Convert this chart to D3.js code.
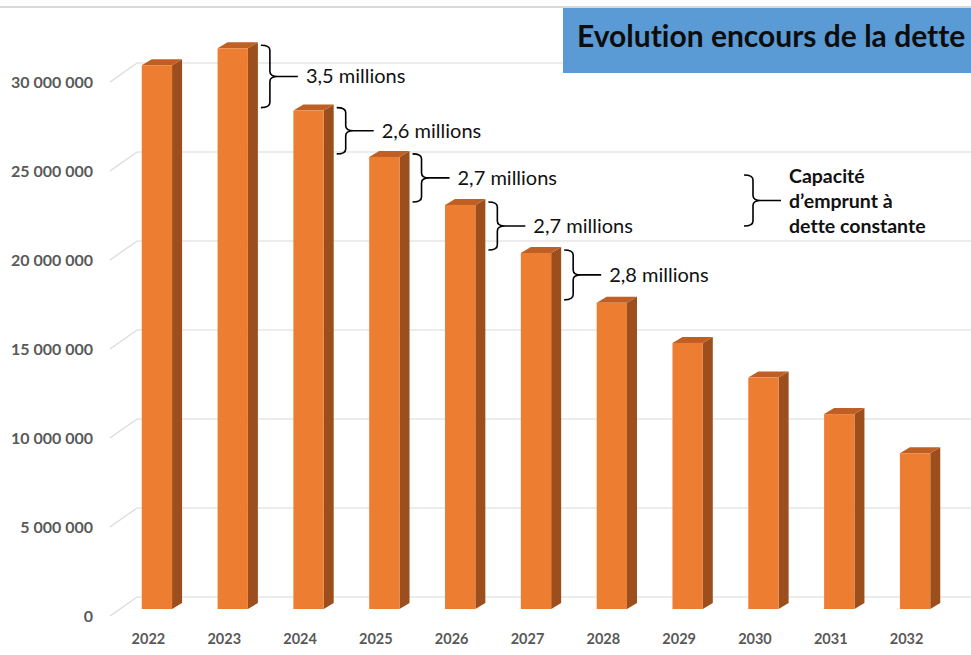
<!DOCTYPE html>
<html>
<head>
<meta charset="utf-8">
<script src="https://cdn.jsdelivr.net/npm/d3@7"></script>
<style>
  body { margin: 0; background: #fff; }
  svg { display: block; font-family: Lato, "Open Sans", sans-serif; font-variant-ligatures: none; }
  .axis text { fill: #595959; font-weight: bold; font-family: Lato, "Open Sans", sans-serif; }
  .brace { fill: none; stroke: #000; stroke-width: 1.6; }
  .brace-label { font-size: 20px; fill: #111; }
</style>
</head>
<body>
<svg id="chart"></svg>
<script>
const years = ['2022', '2023', '2024', '2025', '2026', '2027', '2028', '2029', '2030', '2031', '2032'];
const debt = [30550000, 31500000, 28000000, 25400000, 22700000, 20000000, 17200000, 14950000, 13000000, 10950000, 8750000];
const yTicks = [0, 5000000, 10000000, 15000000, 20000000, 25000000, 30000000];
const gapFrom = ['2023', '2024', '2025', '2026', '2027'];
const gapLabels = ['3,5 millions', '2,6 millions', '2,7 millions', '2,7 millions', '2,8 millions'];
const noteLines = ['Capacité', 'd’emprunt à', 'dette constante'];
const title = 'Evolution encours de la dette';

const width = 971;
const height = 655;

// 3D offsets (front axis plane -> back wall, bar depth)
const wall = { dx: 27, dy: -19 };
const bar = { dx: 10, dy: -6, inset: 12 };

const svg = d3.select('#chart')
  .attr('width', width)
  .attr('height', height);

const data = years.map((year, i) => ({ year, total: debt[i] }));

const x = d3.scaleBand()
  .range([119, 953])
  .paddingInner(0.6)
  .paddingOuter(0.3)
  .domain(years);
// back wall scale
const y = d3.scaleLinear()
  .range([597, 63])
  .domain([0, 30000000]);

const fmt = d3.formatLocale({ decimal: ',', thousands: ' ', grouping: [3], currency: ['', ' €'] }).format(',');

// top border line
svg.append('line')
  .attr('x1', 0).attr('x2', width)
  .attr('y1', 7).attr('y2', 7)
  .attr('stroke', '#d9d9d9')
  .attr('stroke-width', 2);

// Gridlines: floor diagonal + back wall horizontal
const grid = svg.append('g').attr('class', 'grid');
const wallX = 110 + wall.dx;
grid.selectAll('path')
  .data(yTicks)
  .enter().append('path')
    .attr('fill', 'none')
    .attr('stroke', '#d9d9d9')
    .attr('stroke-width', 1.2)
    .attr('d', d => `M110,${y(d) - wall.dy}L${wallX},${y(d)}H${width}`);

// Y axis labels
const yAxis = d3.axisLeft(y)
  .tickValues(yTicks)
  .tickSize(0)
  .tickFormat(fmt);
svg.append('g')
  .attr('class', 'axis y')
  .attr('transform', `translate(96, ${-wall.dy})`)
  .call(yAxis)
  .call(g => g.select('.domain').remove())
  .selectAll('text')
    .style('font-size', '16px');

// X axis labels
const xAxis = d3.axisBottom(x).tickSize(0);
svg.append('g')
  .attr('class', 'axis x')
  .attr('transform', 'translate(-8.5, 631)')
  .call(xAxis)
  .call(g => g.select('.domain').remove())
  .selectAll('text')
    .style('font-size', '14.5px');

// Bars (pseudo 3D)
const bw = x.bandwidth();
const frontTop = d => y(d.total) + bar.inset;
const frontBottom = y(0) + bar.inset;
const bars = svg.append('g').attr('class', 'bars')
  .selectAll('g')
  .data(data)
  .enter().append('g');

bars.append('path')
  .attr('fill', '#9c4e1c')
  .attr('d', d => {
    const x1 = x(d.year) + bw;
    return `M${x1},${frontTop(d)}L${x1 + bar.dx},${frontTop(d) + bar.dy}V${frontBottom + bar.dy}L${x1},${frontBottom}Z`;
  });
bars.append('path')
  .attr('fill', '#bf5f24')
  .attr('d', d => {
    const x0 = x(d.year);
    const t = frontTop(d);
    return `M${x0},${t}L${x0 + bar.dx},${t + bar.dy}H${x0 + bw + bar.dx}L${x0 + bw},${t}Z`;
  });
bars.append('rect')
  .attr('fill', '#ed7d31')
  .attr('x', d => x(d.year))
  .attr('y', d => frontTop(d))
  .attr('width', bw)
  .attr('height', d => frontBottom - frontTop(d));

// Braces
function bracePath(bx, y0, y1) {
  const m = (y0 + y1) / 2;
  const r = 5;
  const s = bx + 9;
  return `M${bx},${y0}Q${s},${y0} ${s},${y0 + r}V${m - r}Q${s},${m} ${bx + 17},${m}` +
    `Q${s},${m} ${s},${m + r}V${y1 - r}Q${s},${y1} ${bx},${y1}` +
    `M${bx + 17},${m}H${bx + 37}`;
}

const byYear = new Map(data.map(d => [d.year, d]));
gapFrom.forEach((yr, i) => {
  const a = byYear.get(yr);
  const b = byYear.get(years[years.indexOf(yr) + 1]);
  const bx = x(yr) + bw + bar.dx + 3;
  const y0 = frontTop(a) - 3;
  const y1 = frontTop(b) - 3;
  svg.append('path')
    .attr('class', 'brace')
    .attr('d', bracePath(bx, y0, y1));
  svg.append('text')
    .attr('class', 'brace-label')
    .attr('x', bx + 45)
    .attr('y', (y0 + y1) / 2)
    .attr('dy', '0.35em')
    .text(gapLabels[i]);
});

// "Capacité d'emprunt" note
svg.append('path')
  .attr('class', 'brace')
  .attr('d', bracePath(744, 175, 226));
svg.append('text')
  .attr('font-size', 19.5)
  .attr('font-weight', 'bold')
  .attr('fill', '#111')
  .selectAll('tspan')
  .data(noteLines)
  .enter().append('tspan')
    .attr('x', 789)
    .attr('y', (d, i) => 183 + i * 25)
    .text(d => d);

// Title box
svg.append('rect')
  .attr('x', 563)
  .attr('y', 8)
  .attr('width', width - 563)
  .attr('height', 65)
  .attr('fill', '#5b9bd5');
svg.append('text')
  .attr('x', 577)
  .attr('y', 47)
  .attr('font-size', 30)
  .attr('font-weight', 'bold')
  .attr('fill', '#0d0d0d')
  .text(title);
</script>
</body>
</html>
